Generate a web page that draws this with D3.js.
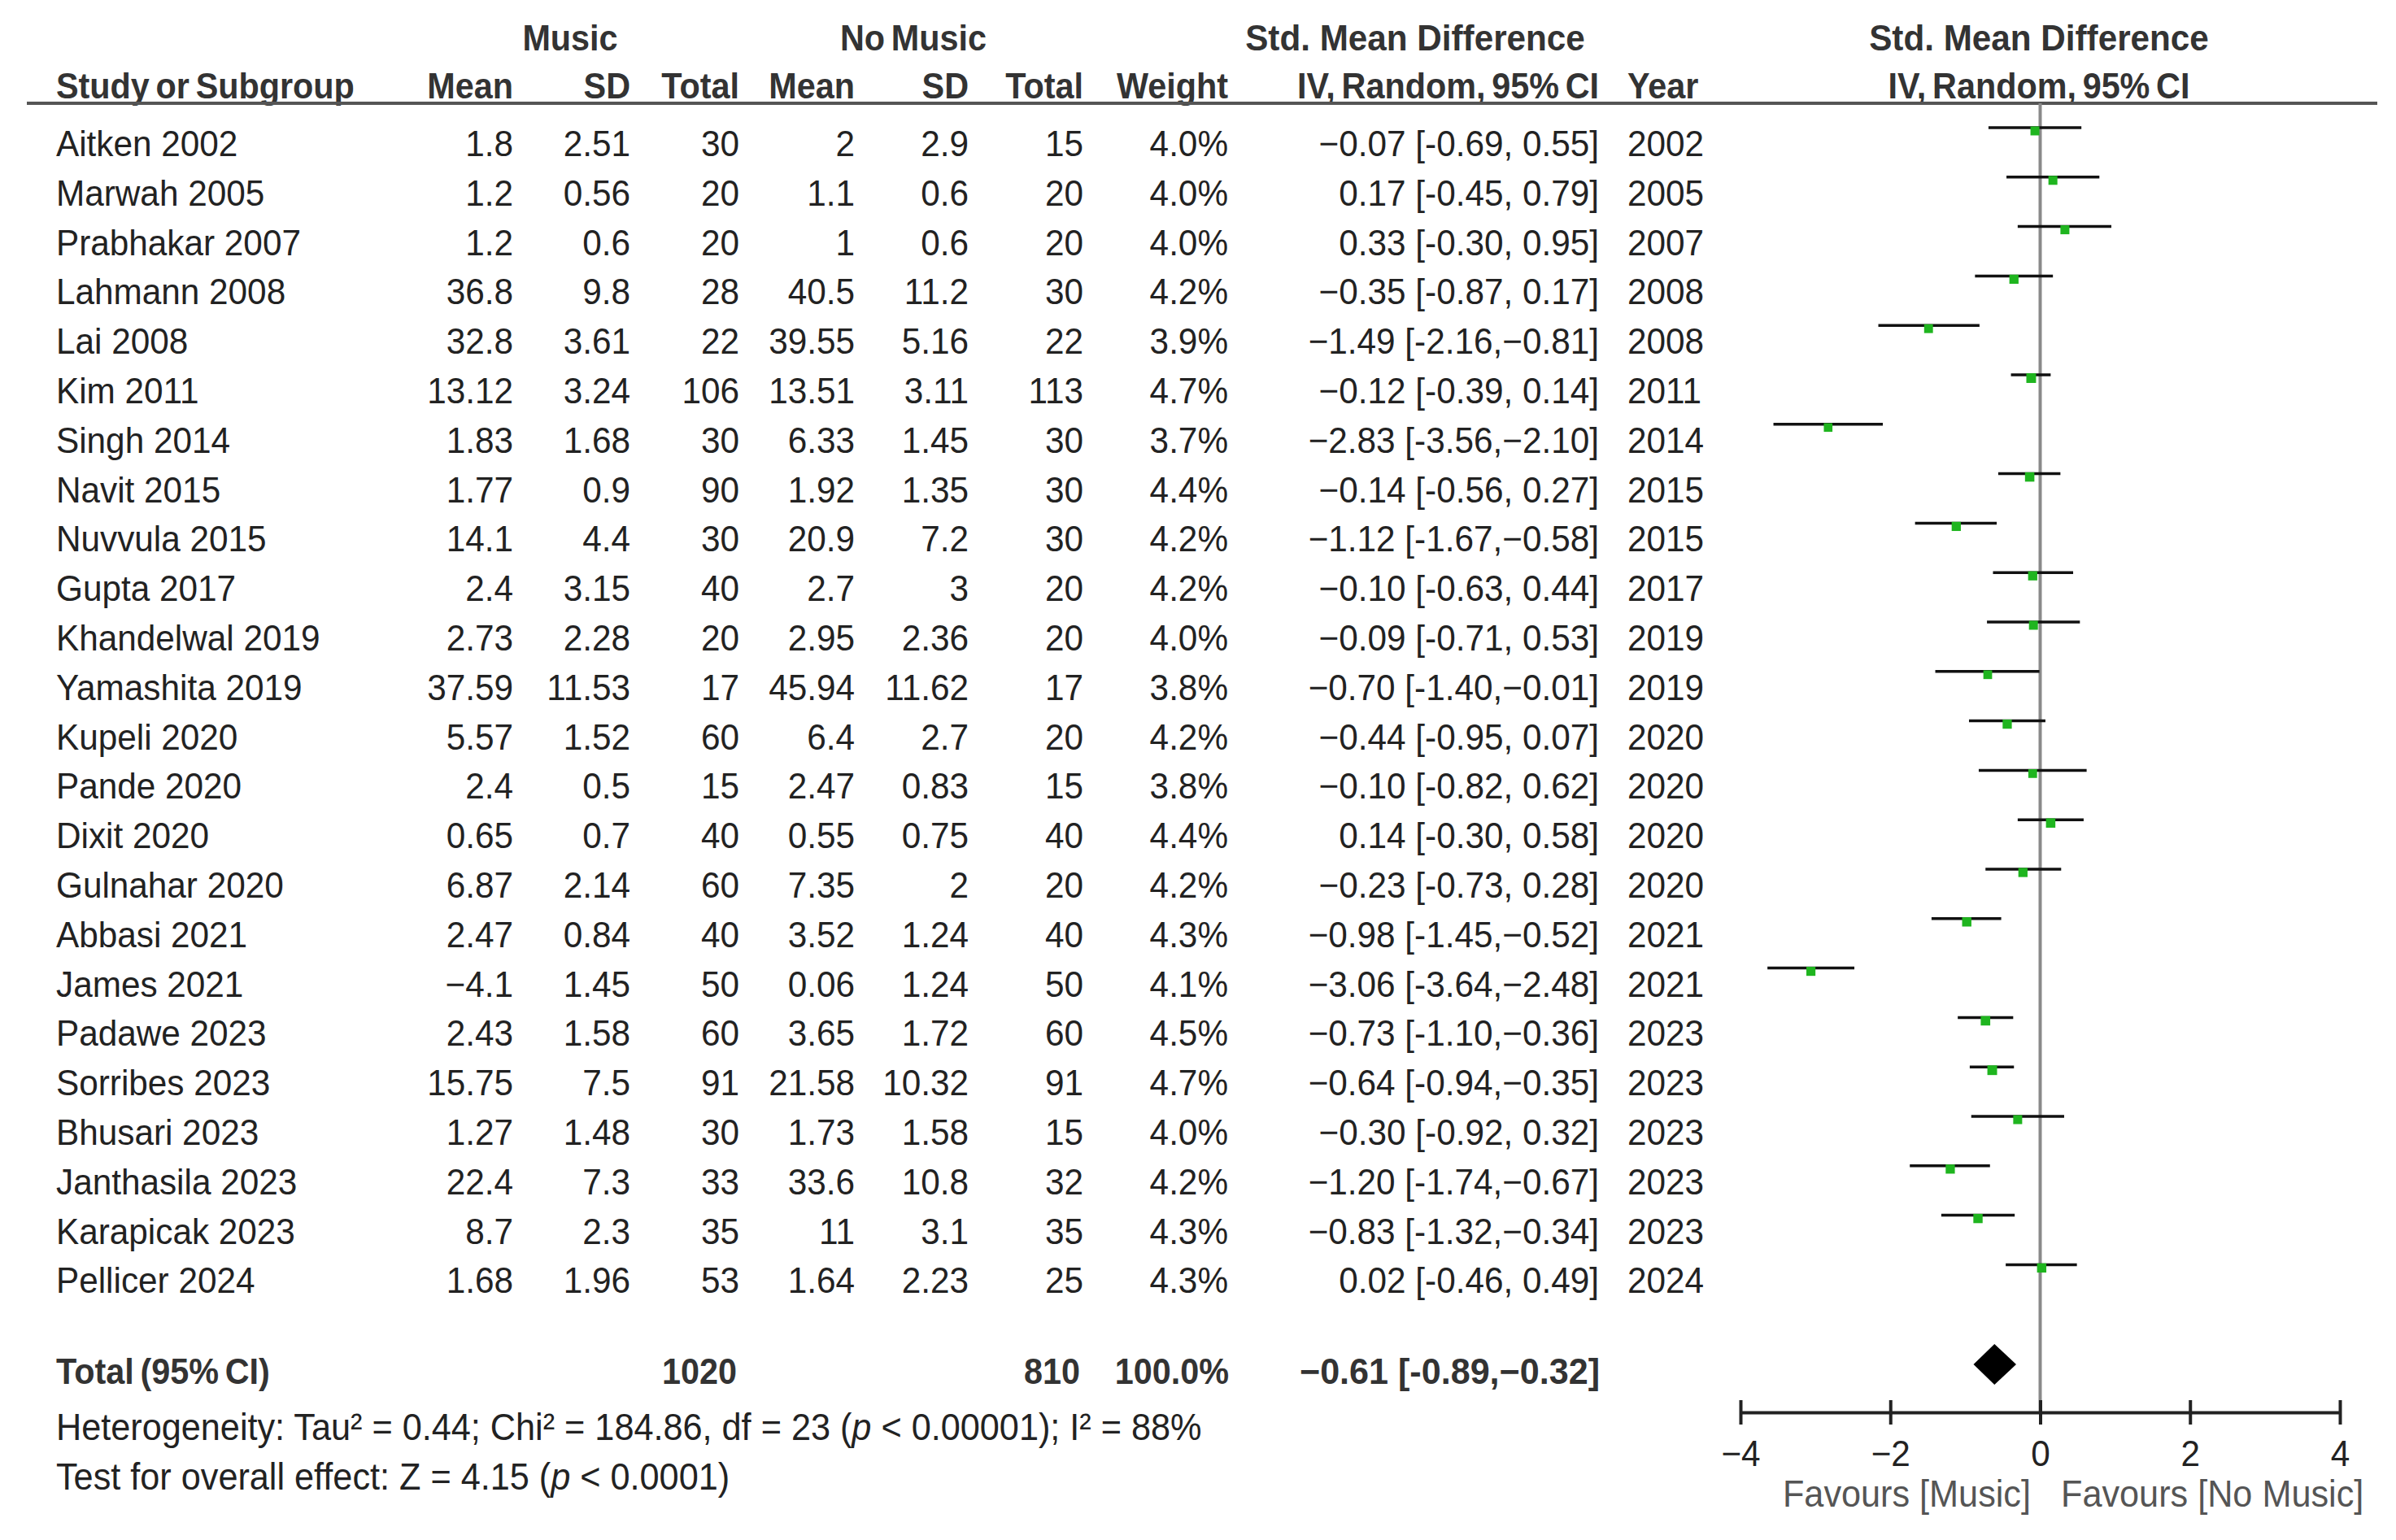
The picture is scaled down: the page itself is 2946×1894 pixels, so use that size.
<!DOCTYPE html>
<html>
<head>
<meta charset="utf-8">
<script src="https://cdn.jsdelivr.net/npm/d3@7/dist/d3.min.js"></script>
<style>
  html, body { margin: 0; padding: 0; background: #fff; }
  svg { display: block; }
  text { font-family: "Liberation Sans", Arial, Helvetica, sans-serif; }
</style>
</head>
<body>
<svg id="chart" width="2946" height="1894"></svg>
<script>
// ---------------- DATA ----------------
const studies = ["Aitken 2002","Marwah 2005","Prabhakar 2007","Lahmann 2008","Lai 2008","Kim 2011","Singh 2014","Navit 2015","Nuvvula 2015","Gupta 2017","Khandelwal 2019","Yamashita 2019","Kupeli 2020","Pande 2020","Dixit 2020","Gulnahar 2020","Abbasi 2021","James 2021","Padawe 2023","Sorribes 2023","Bhusari 2023","Janthasila 2023","Karapicak 2023","Pellicer 2024"];
const musicMean  = ["1.8","1.2","1.2","36.8","32.8","13.12","1.83","1.77","14.1","2.4","2.73","37.59","5.57","2.4","0.65","6.87","2.47","−4.1","2.43","15.75","1.27","22.4","8.7","1.68"];
const musicSD    = ["2.51","0.56","0.6","9.8","3.61","3.24","1.68","0.9","4.4","3.15","2.28","11.53","1.52","0.5","0.7","2.14","0.84","1.45","1.58","7.5","1.48","7.3","2.3","1.96"];
const musicTotal = [30,20,20,28,22,106,30,90,30,40,20,17,60,15,40,60,40,50,60,91,30,33,35,53];
const noMean     = ["2","1.1","1","40.5","39.55","13.51","6.33","1.92","20.9","2.7","2.95","45.94","6.4","2.47","0.55","7.35","3.52","0.06","3.65","21.58","1.73","33.6","11","1.64"];
const noSD       = ["2.9","0.6","0.6","11.2","5.16","3.11","1.45","1.35","7.2","3","2.36","11.62","2.7","0.83","0.75","2","1.24","1.24","1.72","10.32","1.58","10.8","3.1","2.23"];
const noTotal    = [15,20,20,30,22,113,30,30,30,20,20,17,20,15,40,20,40,50,60,91,15,32,35,25];
const weights    = [4.0,4.0,4.0,4.2,3.9,4.7,3.7,4.4,4.2,4.2,4.0,3.8,4.2,3.8,4.4,4.2,4.3,4.1,4.5,4.7,4.0,4.2,4.3,4.3];
const smd        = [-0.07,0.17,0.33,-0.35,-1.49,-0.12,-2.83,-0.14,-1.12,-0.10,-0.09,-0.70,-0.44,-0.10,0.14,-0.23,-0.98,-3.06,-0.73,-0.64,-0.30,-1.20,-0.83,0.02];
const ciLow      = [-0.69,-0.45,-0.30,-0.87,-2.16,-0.39,-3.56,-0.56,-1.67,-0.63,-0.71,-1.40,-0.95,-0.82,-0.30,-0.73,-1.45,-3.64,-1.10,-0.94,-0.92,-1.74,-1.32,-0.46];
const ciHigh     = [0.55,0.79,0.95,0.17,-0.81,0.14,-2.10,0.27,-0.58,0.44,0.53,-0.01,0.07,0.62,0.58,0.28,-0.52,-2.48,-0.36,-0.35,0.32,-0.67,-0.34,0.49];
const years      = [2002,2005,2007,2008,2008,2011,2014,2015,2015,2017,2019,2019,2020,2020,2020,2020,2021,2021,2023,2023,2023,2023,2023,2024];
const pooled     = { est: -0.61, lo: -0.89, hi: -0.32 };
const totalMusic = 1020, totalNoMusic = 810, totalWeight = "100.0%";
const xTicks     = [-4, -2, 0, 2, 4];

// ---------------- LAYOUT ----------------
const svg = d3.select("#chart");
const SX = 0.94;          // horizontal condensation of the text
const FS = 45;            // body font size
const ink = "#222";

const x = d3.scaleLinear().domain([-4, 4]).range([2140, 2877]);
const y = d3.scaleLinear().domain([0, studies.length - 1]).range([175, 175 + 23 * 60.8]);

function fmt(v) {
  const s = Math.abs(v).toFixed(2);
  return (v < 0 ? "−" : "") + s;
}
function fmtLo(v) {
  const s = Math.abs(v).toFixed(2);
  return (v < 0 ? "-" : "") + s;
}
function ciText(e, l, h) {
  return fmt(e) + " [" + fmtLo(l) + (h < 0 ? "," : ", ") + fmt(h) + "]";
}

function txt(g, px, py, s, anchor, opt = {}) {
  const t = g.append("text")
    .attr("transform", `translate(${px},${py}) scale(${opt.sx || SX},1)`)
    .attr("text-anchor", anchor)
    .attr("font-size", opt.size || FS)
    .attr("font-weight", opt.bold ? "bold" : "normal")
    .attr("fill", opt.fill || ink)
    .text(s);
  if (opt.wordSpacing != null) t.attr("word-spacing", opt.wordSpacing);
  return t;
}

const g = svg.append("g");

// ---- headers ----
const hb = { bold: true, fill: "#333", size: 44 };
const ws = { wordSpacing: -4 };
txt(g, 701, 62, "Music", "middle", hb);
txt(g, 1123, 62, "No Music", "middle", Object.assign({}, ws, hb));
txt(g, 1740, 62, "Std. Mean Difference", "middle", Object.assign({ sx: 0.96 }, hb));
txt(g, 2507, 62, "Std. Mean Difference", "middle", Object.assign({ sx: 0.96 }, hb));

const h2 = 121;
txt(g, 69, h2, "Study or Subgroup", "start", Object.assign({}, ws, hb));
txt(g, 631, h2, "Mean", "end", hb);
txt(g, 775, h2, "SD", "end", hb);
txt(g, 909, h2, "Total", "end", hb);
txt(g, 1051, h2, "Mean", "end", hb);
txt(g, 1191, h2, "SD", "end", hb);
txt(g, 1332, h2, "Total", "end", hb);
txt(g, 1510, h2, "Weight", "end", hb);
txt(g, 1966, h2, "IV, Random, 95% CI", "end", Object.assign({}, ws, hb));
txt(g, 2001, h2, "Year", "start", hb);
txt(g, 2507, h2, "IV, Random, 95% CI", "middle", Object.assign({}, ws, hb));

// header rule
g.append("line").attr("x1", 33).attr("x2", 2923).attr("y1", 127).attr("y2", 127)
  .attr("stroke", "#555").attr("stroke-width", 4);

// ---- zero line ----
const axisY = 1737;
g.append("line").attr("x1", x(0)).attr("x2", x(0)).attr("y1", 127).attr("y2", axisY)
  .attr("stroke", "#8a8a8a").attr("stroke-width", 4);

// ---- study rows ----
const rows = g.selectAll("g.row").data(studies).join("g").attr("class", "row");
rows.each(function (d, i) {
  const r = d3.select(this);
  const base = y(i) + 17;
  txt(r, 69, base, d, "start");
  txt(r, 631, base, musicMean[i], "end");
  txt(r, 775, base, musicSD[i], "end");
  txt(r, 909, base, musicTotal[i], "end");
  txt(r, 1051, base, noMean[i], "end");
  txt(r, 1191, base, noSD[i], "end");
  txt(r, 1332, base, noTotal[i], "end");
  txt(r, 1510, base, weights[i].toFixed(1) + "%", "end");
  txt(r, 1966, base, ciText(smd[i], ciLow[i], ciHigh[i]), "end");
  txt(r, 2001, base, years[i], "start");

  const ly = y(i) - 18;
  r.append("line").attr("x1", x(ciLow[i])).attr("x2", x(ciHigh[i]))
    .attr("y1", ly).attr("y2", ly).attr("stroke", "#111").attr("stroke-width", 3.5);
  const s = 11 * Math.sqrt(weights[i] / 4);
  r.append("rect").attr("x", x(smd[i]) - s / 2).attr("y", ly + 4 - s / 2)
    .attr("width", s).attr("height", s).attr("fill", "#1fb51f");
});

// ---- total row ----
const tb = { bold: true, fill: "#333", size: 44 };
const tBase = 1702;
txt(g, 69, tBase, "Total (95% CI)", "start", Object.assign({}, ws, tb));
txt(g, 906, tBase, totalMusic, "end", tb);
txt(g, 1328, tBase, totalNoMusic, "end", tb);
txt(g, 1511, tBase, totalWeight, "end", tb);
txt(g, 1967, tBase, ciText(pooled.est, pooled.lo, pooled.hi), "end", Object.assign({ sx: 0.98 }, tb));

const dy = 1678, dh = 25;
g.append("path")
  .attr("d", `M${x(pooled.lo)},${dy} L${x(pooled.est)},${dy - dh} L${x(pooled.hi)},${dy} L${x(pooled.est)},${dy + dh} Z`)
  .attr("fill", "#000");

// ---- heterogeneity lines ----
function richLine(px, py, parts) {
  const t = g.append("text")
    .attr("transform", `translate(${px},${py}) scale(${SX},1)`)
    .attr("font-size", 46).attr("fill", ink);
  parts.forEach(p => {
    const sp = t.append("tspan").text(p[0]);
    if (p[1]) sp.attr("font-style", "italic");
  });
}
richLine(69, 1771, [["Heterogeneity: Tau² = 0.44; Chi² = 184.86, df = 23 ("], ["p", true], [" < 0.00001); I² = 88%"]]);
richLine(69, 1832, [["Test for overall effect: Z = 4.15 ("], ["p", true], [" < 0.0001)"]]);

// ---- axis ----
const axis = d3.axisBottom(x).tickValues(xTicks).tickSizeOuter(0).tickSizeInner(15)
  .tickFormat(v => (v < 0 ? "−" : "") + Math.abs(v));
const ag = g.append("g").attr("transform", `translate(0,${axisY})`).call(axis);
ag.select(".domain").attr("stroke", "#222").attr("stroke-width", 4);
ag.selectAll(".tick line").attr("y1", -15).attr("y2", 15).attr("stroke", "#222").attr("stroke-width", 4);
ag.selectAll(".tick text")
  .attr("y", 0).attr("dy", null)
  .attr("transform", `translate(0,66) scale(${SX},1)`)
  .attr("font-size", 45).attr("fill", ink)
  .attr("font-family", '"Liberation Sans", Arial, sans-serif');

txt(g, 2497, 1853, "Favours [Music]", "end", { fill: "#555", size: 46 });
txt(g, 2534, 1853, "Favours [No Music]", "start", { fill: "#555", size: 46 });
</script>
</body>
</html>
